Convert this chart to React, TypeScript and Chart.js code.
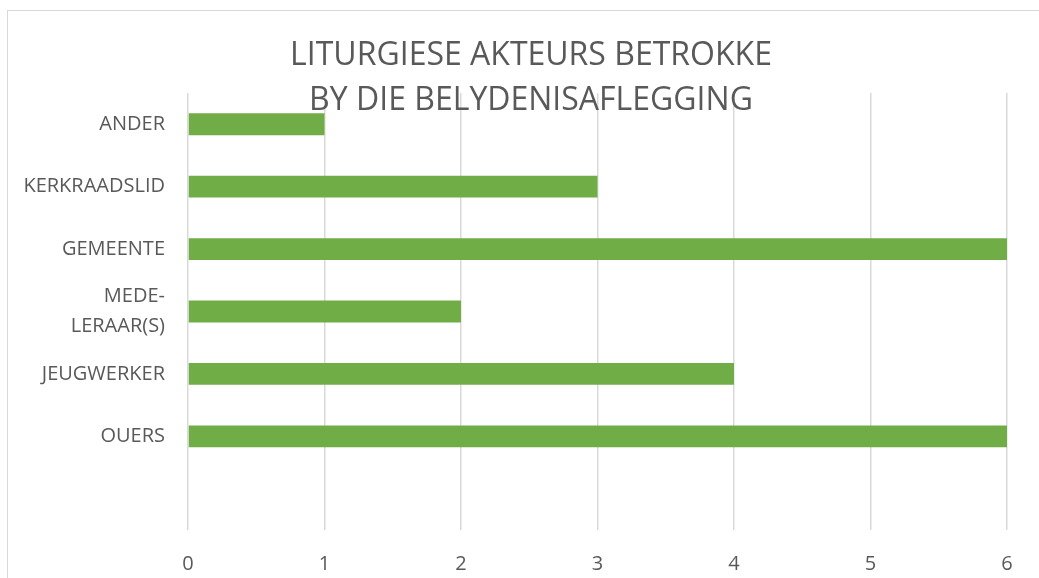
import React, { useEffect, useRef } from "react";
import { Chart, registerables } from "chart.js";

Chart.register(...registerables);

const categories: (string | string[])[] = [
  "ANDER",
  "KERKRAADSLID",
  "GEMEENTE",
  ["MEDE-", "LERAAR(S)"],
  "JEUGWERKER",
  "OUERS",
  "",
];
const values: (number | null)[] = [1, 3, 6, 2, 4, 6, null];
const titleLines = ["LITURGIESE AKTEURS BETROKKE", "BY DIE BELYDENISAFLEGGING"];
const xTicks = [0, 1, 2, 3, 4, 5, 6];

const FONT = "'Open Sans', sans-serif";
const TEXT = "#595959";

const titlePlugin = {
  id: "customTitle",
  afterDatasetsDraw(chart: any) {
    const ctx = chart.ctx;
    ctx.save();
    ctx.fillStyle = TEXT;
    ctx.font = `32px ${FONT}`;
    ctx.textAlign = "center";
    ctx.textBaseline = "middle";
    ctx.fillText(titleLines[0], 531, 56);
    ctx.fillText(titleLines[1], 531, 101);
    ctx.restore();
  },
};

export default function App() {
  const ref = useRef<HTMLCanvasElement>(null);
  useEffect(() => {
    if (!ref.current) return;
    const chart = new Chart(ref.current, {
      type: "bar",
      data: {
        labels: categories,
        datasets: [
          {
            data: values,
            backgroundColor: "#70AD47",
            barPercentage: 0.7,
            categoryPercentage: 0.5,
          },
        ],
      },
      options: {
        indexAxis: "y",
        animation: false,
        responsive: false,
        maintainAspectRatio: false,
        layout: { padding: { top: 93, right: 32, left: 0, bottom: 0 } },
        plugins: {
          legend: { display: false },
          title: { display: false },
          tooltip: { enabled: false },
        },
        scales: {
          x: {
            min: 0,
            max: 6,
            afterBuildTicks(scale: any) {
              scale.ticks = xTicks.map((v) => ({ value: v }));
            },
            afterFit(scale: any) {
              scale.height = 48;
            },
            grid: { color: "#d9d9d9", lineWidth: 1.5, drawTicks: false },
            border: { display: false },
            ticks: {
              color: TEXT,
              font: { family: FONT, size: 20 },
              padding: 22,
              autoSkip: false,
              maxRotation: 0,
            },
          },
          y: {
            afterFit(scale: any) {
              scale.width = 188;
            },
            grid: { display: false, drawTicks: false },
            border: { display: false },
            ticks: {
              color: TEXT,
              font: { family: FONT, size: 20, lineHeight: 1.5 },
              padding: 23,
              autoSkip: false,
            },
          },
        },
      },
      plugins: [titlePlugin],
    });
    return () => chart.destroy();
  }, []);
  return (
    <div style={{ position: "fixed", left: 0, top: 0, width: 1039, height: 578, background: "#fff" }}>
      <div
        style={{
          position: "absolute",
          left: 7,
          top: 10,
          width: 1100,
          height: 700,
          border: "1.5px solid #d9d9d9",
        }}
      />
      <canvas ref={ref} width={1039} height={578} style={{ position: "absolute", left: 0, top: 0 }} />
    </div>
  );
}
